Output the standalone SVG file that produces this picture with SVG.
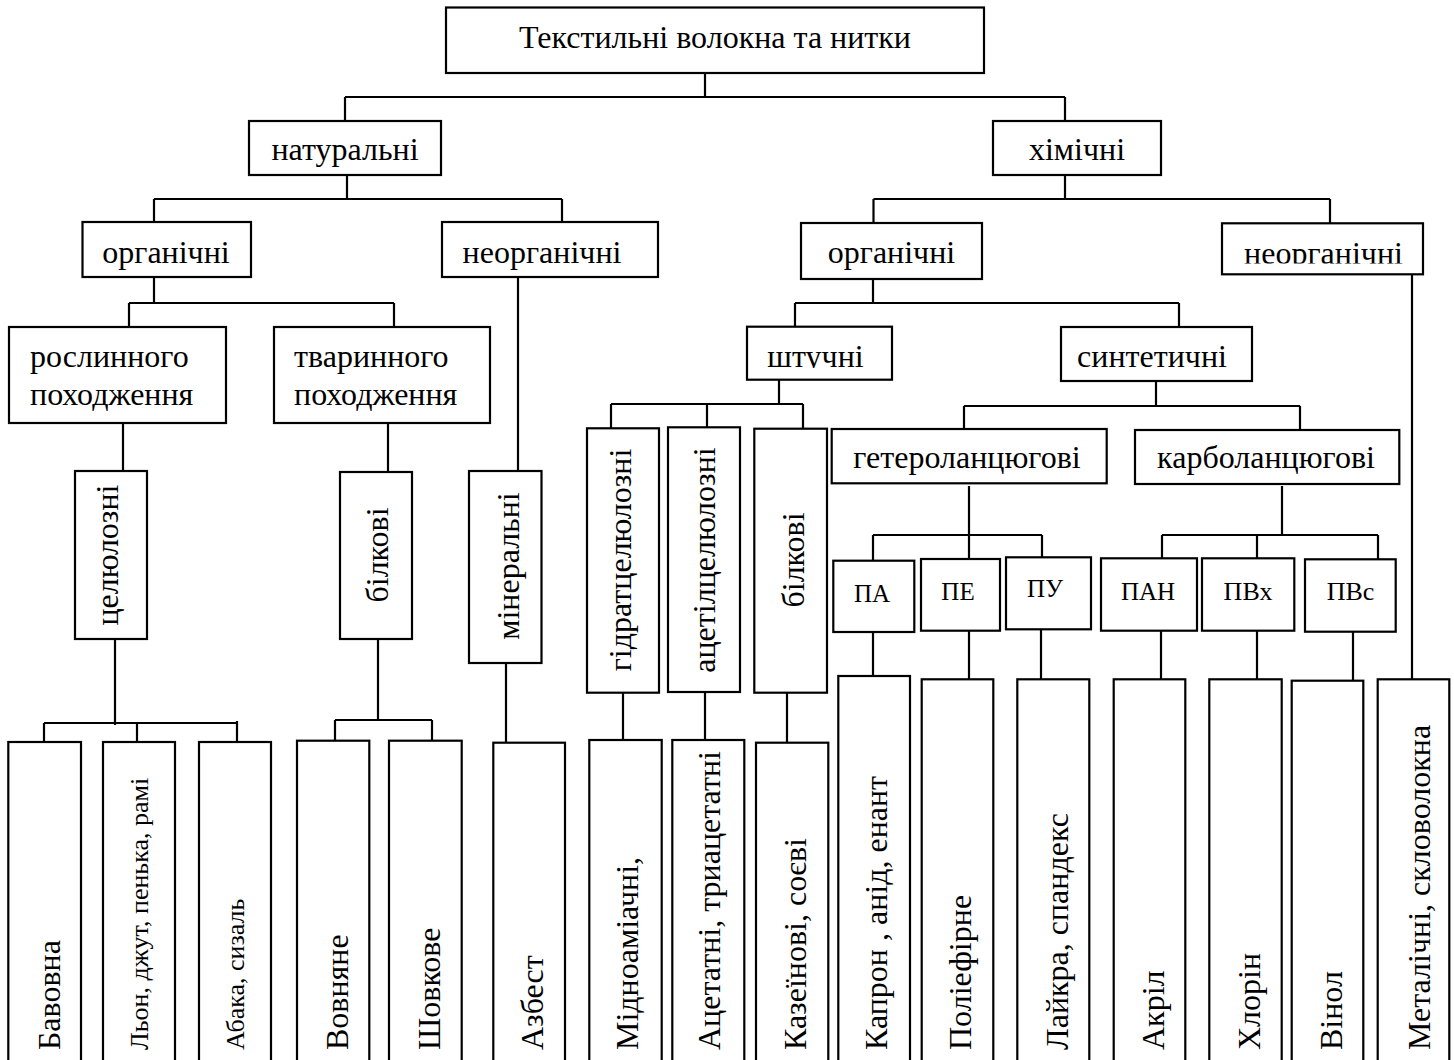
<svg xmlns="http://www.w3.org/2000/svg" width="1454" height="1060" viewBox="0 0 1454 1060">
<style>
rect{fill:#fff;stroke:#000;stroke-width:2.2}
.c{fill:none;stroke:#000;stroke-width:2.2}
text{font-family:"Liberation Serif","Times New Roman",serif;font-size:32px;fill:#000}
.m{text-anchor:middle}
.s{font-size:25px}
.t{font-size:26px}
</style>
<defs>
<clipPath id="clipR"><rect x="1222" y="223" width="201" height="40.5"/></clipPath>
<clipPath id="clipS"><rect x="747" y="327" width="145" height="41"/></clipPath>
</defs>
<rect x="0" y="0" width="1454" height="1060" style="stroke:none"/>
<g id="connectors">
<path class="c" d="M705,73V97M345,97H1065M345,97V121M1065,97V121
M347,175V199M154,199H562M154,199V222M562,199V222
M1065,175V199M873.5,199H1330M873.5,199V223M1330,199V223
M154,277V303M129,303H394M129,303V327M394,303V327
M518,277V471
M123,423V471
M388,423V472
M115,639V725M44,723H237M44,723V742M137,723V742M237,721V742
M378,639V720M335,720H432M335,720V741M432,720V741
M506,663V743
M873,279V303M795,303H1179M795,303V327M1179,303V327
M779,379V404M611,404H803M611,404V428M707,404V428M803,404V429
M623,693V740M705,692V740M787,693V743
M1156,381V406M964,406H1300M964,406V429M1300,406V430
M969,486V559M873,535H1042M873,535V561M1042,535V557
M1282,486V535M1162,535H1378M1162,535V558M1257,535V558M1378,535V559
M873,632V676M969,631V679M1041,629V679M1161,631V680M1257,631V680M1353,632V681
M1412,274V684"/>
</g>
<g id="n-root"><rect x="446" y="7.5" width="538" height="65.5"/><text class="m" x="715" y="48">Текстильні волокна та нитки</text></g>
<g id="n-nat"><rect x="249" y="121" width="192" height="54"/><text class="m" x="345" y="160">натуральні</text></g>
<g id="n-chem"><rect x="993" y="121" width="168" height="54"/><text class="m" x="1077" y="160">хімічні</text></g>
<g id="n-org1"><rect x="82.5" y="222" width="168.5" height="55"/><text class="m" x="166" y="263">органічні</text></g>
<g id="n-inorg1"><rect x="442" y="222" width="216" height="55"/><text class="m" x="542" y="263">неорганічні</text></g>
<g id="n-org2"><rect x="801" y="223" width="181" height="56"/><text class="m" x="891.5" y="263">органічні</text></g>
<g id="n-inorg2"><rect x="1222" y="223.3" width="201" height="51"/><text class="m" x="1323.5" y="264" clip-path="url(#clipR)">неорганічні</text></g>
<g id="n-plant"><rect x="9" y="327" width="217" height="96"/><text x="30" y="367">рослинного</text><text x="30" y="405">походження</text></g>
<g id="n-animal"><rect x="274" y="327" width="216" height="96"/><text x="294" y="367">тваринного</text><text x="294" y="405">походження</text></g>
<g id="n-cell"><rect x="75" y="471" width="72" height="168"/><text class="m" transform="translate(118,555) rotate(-90)">целюлозні</text></g>
<g id="n-prot1"><rect x="340" y="472" width="72" height="167"/><text class="m" transform="translate(388,555) rotate(-90)">білкові</text></g>
<g id="n-min"><rect x="469" y="471" width="72.5" height="192"/><text class="m" transform="translate(519,566) rotate(-90)">мінеральні</text></g>
<g id="n-art"><rect x="747" y="326.7" width="145" height="53"/><text class="m" x="815.5" y="367" clip-path="url(#clipS)">штучні</text></g>
<g id="n-syn"><rect x="1061" y="327" width="191" height="54"/><text class="m" x="1152" y="367">синтетичні</text></g>
<g id="n-hydr"><rect x="587" y="428.3" width="72" height="264.4"/><text class="m" transform="translate(631,560) rotate(-90)">гідратцелюлозні</text></g>
<g id="n-acet"><rect x="668" y="427.3" width="72" height="264.7"/><text class="m" transform="translate(715,560) rotate(-90)">ацетілцелюлозні</text></g>
<g id="n-prot2"><rect x="754.3" y="428.7" width="72.7" height="264"/><text class="m" transform="translate(804,560) rotate(-90)">білкові</text></g>
<g id="n-hetero"><rect x="831.7" y="429" width="275" height="54.3"/><text class="m" x="967" y="468">гетероланцюгові</text></g>
<g id="n-carbo"><rect x="1135" y="430" width="264.3" height="54"/><text class="m" x="1266" y="468">карболанцюгові</text></g>
<g id="n-pa"><rect x="833.3" y="560.7" width="81" height="71.3"/><text class="m s" x="872" y="602">ПА</text></g>
<g id="n-pe"><rect x="921" y="559" width="79" height="71.7"/><text class="m s" x="958" y="600">ПЕ</text></g>
<g id="n-pu"><rect x="1006" y="557.3" width="85" height="72"/><text class="m s" x="1045" y="597">ПУ</text></g>
<g id="n-pan"><rect x="1101" y="558.3" width="96" height="72.4"/><text class="m s" x="1148" y="600">ПАН</text></g>
<g id="n-pvh"><rect x="1202" y="558.3" width="92.3" height="72.4"/><text class="m t" x="1248" y="600">ПВх</text></g>
<g id="n-pvs"><rect x="1305" y="559.3" width="90.7" height="72.4"/><text class="m t" x="1350.5" y="600">ПВс</text></g>
<g id="n-cotton"><rect x="8.3" y="742" width="72.7" height="330"/><text transform="translate(60,1050) rotate(-90)">Бавовна</text></g>
<g id="n-flax"><rect x="103" y="742" width="72" height="330"/><text class="t" transform="translate(148,1050) rotate(-90)">Льон, джут, пенька, рамі</text></g>
<g id="n-abaca"><rect x="199" y="742" width="72" height="330"/><text class="t" transform="translate(244,1050) rotate(-90)">Абака, сизаль</text></g>
<g id="n-wool"><rect x="297" y="740.7" width="72.3" height="330"/><text transform="translate(348,1050) rotate(-90)">Вовняне</text></g>
<g id="n-silk"><rect x="389" y="740.7" width="72.7" height="330"/><text transform="translate(440,1050) rotate(-90)">Шовкове</text></g>
<g id="n-asb"><rect x="493.3" y="742.7" width="71.7" height="330"/><text transform="translate(543,1050) rotate(-90)">Азбест</text></g>
<g id="n-cupro"><rect x="589.3" y="740" width="72.4" height="330"/><text transform="translate(638,1050) rotate(-90)">Мідноаміачні,</text></g>
<g id="n-acetate"><rect x="672.3" y="740" width="72" height="330"/><text transform="translate(720,1050) rotate(-90)">Ацетатні, триацетатні</text></g>
<g id="n-casein"><rect x="756" y="742.7" width="72.3" height="330"/><text transform="translate(806,1050) rotate(-90)">Казеїнові, соєві</text></g>
<g id="n-capron"><rect x="838.3" y="676" width="71.7" height="400"/><text transform="translate(887,1050) rotate(-90)">Капрон , анід, енант</text></g>
<g id="n-poly"><rect x="921.7" y="679.3" width="71.6" height="400"/><text transform="translate(971,1050) rotate(-90)">Поліефірне</text></g>
<g id="n-lycra"><rect x="1017.3" y="679.3" width="72" height="400"/><text transform="translate(1068,1050) rotate(-90)">Лайкра, спандекс</text></g>
<g id="n-acryl"><rect x="1113.7" y="679.3" width="71.6" height="400"/><text transform="translate(1164,1050) rotate(-90)">Акріл</text></g>
<g id="n-chlor"><rect x="1209.3" y="679.3" width="72.4" height="400"/><text transform="translate(1260,1050) rotate(-90)">Хлорін</text></g>
<g id="n-vinol"><rect x="1291.7" y="680.7" width="71.6" height="400"/><text transform="translate(1342,1050) rotate(-90)">Вінол</text></g>
<g id="n-metal"><rect x="1377.7" y="679.3" width="71.6" height="400"/><text transform="translate(1430,1050) rotate(-90)">Металічні, скловолокна</text></g>
</svg>
